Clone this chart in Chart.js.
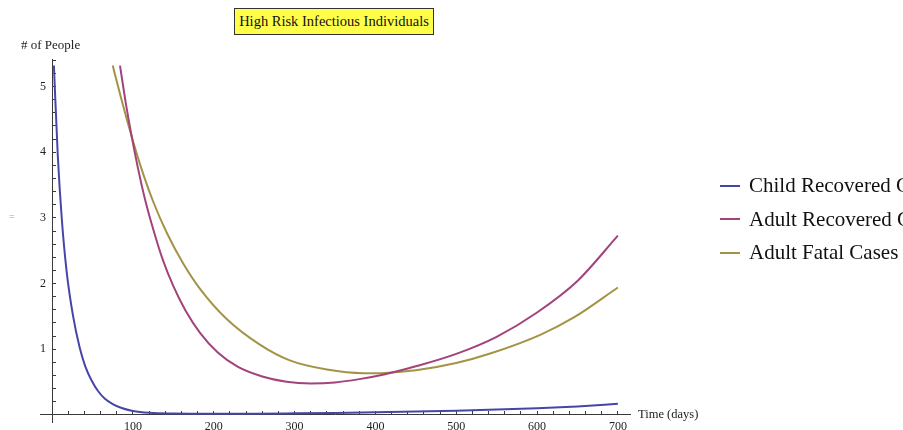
<!DOCTYPE html>
<html>
<head>
<meta charset="utf-8">
<script src="https://cdn.jsdelivr.net/npm/chart.js@4/dist/chart.umd.min.js"></script>
<style>
  html, body { margin: 0; padding: 0; background: #fff; }
  #wrap { position: relative; width: 903px; height: 430px; overflow: hidden; font-family: "Liberation Serif", "Times New Roman", serif; color: #111; }
  #c { position: absolute; left: 0; top: 0; }
  #title { position: absolute; left: 234px; top: 8px; width: 198px; height: 25px; box-sizing: content-box; background: #ffff4a; border: 1px solid #333; font-size: 14.5px; line-height: 25px; text-align: center; white-space: nowrap; }
  #ylab { position: absolute; left: 21px; top: 37px; font-size: 13px; white-space: nowrap; color: #222; }
  #xlab { position: absolute; left: 638px; top: 407px; font-size: 12.5px; white-space: nowrap; color: #222; }
  #mark { position: absolute; left: 9px; top: 211px; font-size: 10px; color: #9ca0d0; }
  #legend { position: absolute; left: 720px; top: 169px; white-space: nowrap; }
  .row { height: 33.5px; display: flex; align-items: center; font-size: 21px; }
  .sw { width: 20px; height: 2px; margin-right: 9px; flex: none; }
</style>
</head>
<body>
<div id="wrap">
  <canvas id="c" width="903" height="430"></canvas>
  <div id="title"></div>
  <div id="ylab"></div>
  <div id="xlab"></div>
  <div id="mark">=</div>
  <div id="legend"></div>
</div>
<script>
// ---- data ----
const chartTitle = "High Risk Infectious Individuals";
const yAxisTitle = "# of People";
const xAxisTitle = "Time (days)";
const seriesNames = ["Child Recovered Cases", "Adult Recovered Cases", "Adult Fatal Cases"];
const seriesColors = ["#4646a8", "#a2437a", "#a39445"];

const childDays = [2.2, 7, 12, 18, 26, 34, 41, 49, 57, 65, 75, 86, 100, 120, 150, 200, 250, 300, 350, 400, 450, 500, 550, 600, 650, 700];
const childVals = [5.32, 3.95, 2.98, 2.18, 1.5, 1.03, 0.74, 0.52, 0.36, 0.25, 0.165, 0.105, 0.06, 0.032, 0.02, 0.016, 0.018, 0.024, 0.031, 0.04, 0.051, 0.065, 0.081, 0.1, 0.13, 0.17];

const adultRecDays = [84, 91, 98, 106, 115, 125, 137, 150, 165, 183, 205, 230, 260, 290, 320, 350, 380, 412, 450, 500, 550, 600, 650, 700];
const adultRecVals = [5.32, 4.76, 4.27, 3.77, 3.28, 2.83, 2.36, 1.96, 1.59, 1.25, 0.95, 0.73, 0.585, 0.505, 0.48, 0.495, 0.545, 0.62, 0.74, 0.93, 1.19, 1.56, 2.04, 2.73];

const adultFatalDays = [75, 85, 97, 110, 125, 142, 162, 183, 216, 257, 294, 340, 385, 412, 450, 500, 542, 604, 645, 700];
const adultFatalVals = [5.32, 4.84, 4.3, 3.77, 3.25, 2.77, 2.31, 1.92, 1.46, 1.07, 0.83, 0.69, 0.635, 0.64, 0.68, 0.79, 0.935, 1.22, 1.48, 1.94];

const xMajorLabels = [100, 200, 300, 400, 500, 600, 700];
const yMajorLabels = [1, 2, 3, 4, 5];
// --------------------------------------

document.getElementById('title').textContent = chartTitle;
document.getElementById('ylab').textContent = yAxisTitle;
document.getElementById('xlab').textContent = xAxisTitle;

const leg = document.getElementById('legend');
seriesNames.forEach((n, i) => {
  const r = document.createElement('div'); r.className = 'row';
  const s = document.createElement('span'); s.className = 'sw'; s.style.background = seriesColors[i];
  const t = document.createElement('span'); t.textContent = n;
  r.appendChild(s); r.appendChild(t); leg.appendChild(r);
});

const toPts = (xs, ys) => xs.map((x, i) => ({x: x, y: ys[i]}));
const allDays = [childDays, adultRecDays, adultFatalDays];
const allVals = [childVals, adultRecVals, adultFatalVals];

const axisColor = '#3a3a3a';
const tickFont = {family: "'Liberation Serif', 'Times New Roman', serif", size: 12};
const isWhole = v => Math.abs(v - Math.round(v)) < 1e-6;

new Chart(document.getElementById('c'), {
  type: 'scatter',
  data: {
    datasets: seriesNames.map((n, i) => ({
      label: n,
      data: toPts(allDays[i], allVals[i]),
      showLine: true,
      borderColor: seriesColors[i],
      backgroundColor: seriesColors[i],
      borderWidth: 2,
      pointRadius: 0,
      pointHoverRadius: 0,
      cubicInterpolationMode: 'monotone',
      fill: false
    }))
  },
  options: {
    responsive: false,
    animation: false,
    devicePixelRatio: 1,
    layout: {padding: {left: 40, right: 273, top: 59, bottom: 7}},
    plugins: {legend: {display: false}, title: {display: false}, tooltip: {enabled: false}},
    scales: {
      x: {
        type: 'linear', min: -15, max: 715, position: {y: 0},
        border: {display: true, color: axisColor, width: 1},
        grid: {drawOnChartArea: false, drawTicks: true, tickLength: -4, tickColor: axisColor, tickWidth: 1},
        ticks: {
          stepSize: 20, autoSkip: false, includeBounds: false, maxRotation: 0, padding: 9.2,
          color: '#222', font: tickFont,
          callback: v => (isWhole(v) && xMajorLabels.includes(Math.round(v))) ? String(Math.round(v)) : ''
        }
      },
      y: {
        type: 'linear', min: -0.12, max: 5.42, position: {x: 0},
        border: {display: true, color: axisColor, width: 1},
        grid: {drawOnChartArea: false, drawTicks: true, tickLength: -4, tickColor: axisColor, tickWidth: 1},
        ticks: {
          stepSize: 0.2, autoSkip: false, includeBounds: false, padding: 0,
          color: '#222', font: tickFont,
          callback: v => (isWhole(v) && yMajorLabels.includes(Math.round(v))) ? String(Math.round(v)) + '  ' : ''
        }
      }
    }
  }
});
</script>
</body>
</html>
